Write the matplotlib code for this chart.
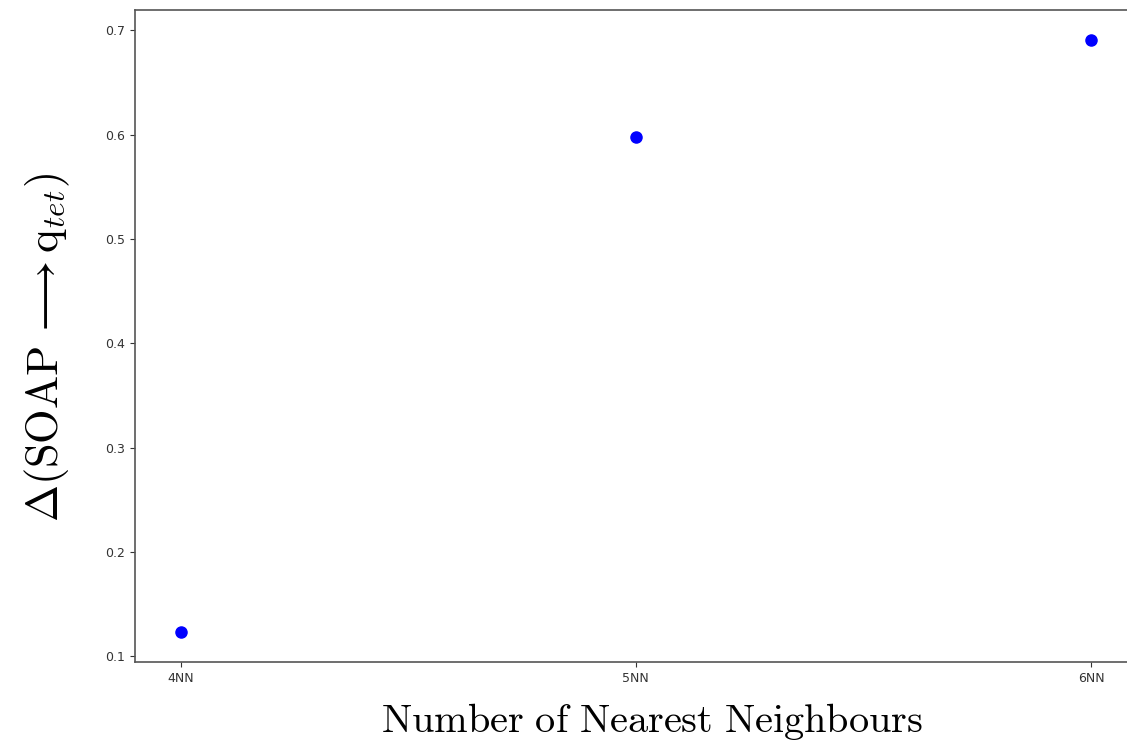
import matplotlib

matplotlib.use("Agg")
import matplotlib.pyplot as plt

plt.rcParams["mathtext.fontset"] = "cm"

neighbours = ["4NN", "5NN", "6NN"]
delta_values = [0.123, 0.598, 0.691]

fig = plt.figure(figsize=(11.27, 7.4), dpi=100)
ax = fig.add_axes([0.1198, 0.1054, 0.8886, 0.881])

ax.plot(neighbours, delta_values, "o", color="blue", markersize=8)

ax.set_yticks([0.1, 0.2, 0.3, 0.4, 0.5, 0.6, 0.7])
ax.tick_params(labelsize=9, colors="#333333")
for spine in ax.spines.values():
    spine.set_color("#555555")
    spine.set_linewidth(1.2)

ax.set_xlabel(r"$\mathrm{Number\ of\ Nearest\ Neighbours}$", fontsize=29)
ax.xaxis.set_label_coords(0.516, -0.06)
ax.set_ylabel(r"$\Delta(\mathrm{SOAP}\,\longrightarrow\mathrm{q}_{tet})$", fontsize=32)
ax.yaxis.set_label_coords(-0.063, 0.482)

fig.savefig("out.png", dpi=100)
plt.close(fig)
